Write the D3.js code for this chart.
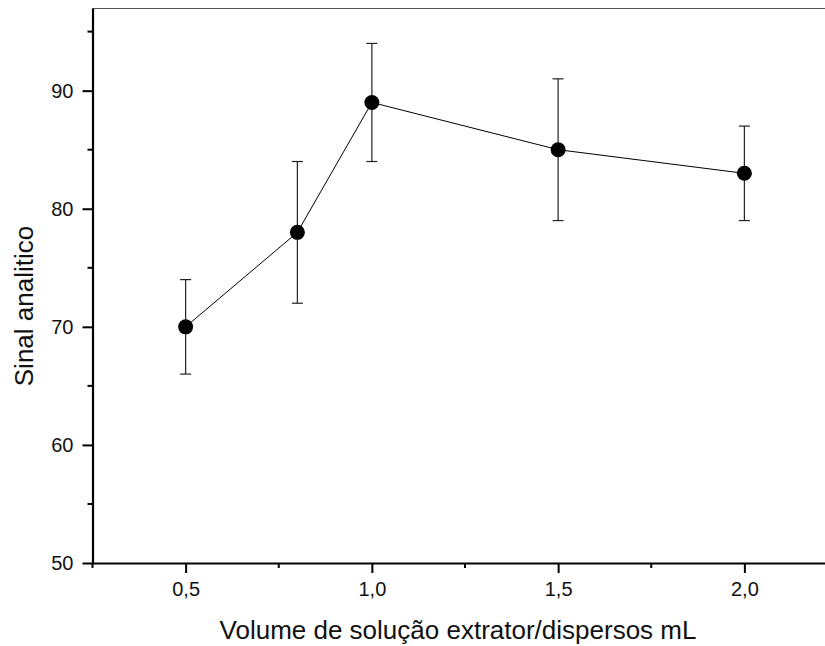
<!DOCTYPE html>
<html>
<head>
<meta charset="utf-8">
<script src="https://cdn.jsdelivr.net/npm/d3@7"></script>
<style>
  body { margin: 0; background: white; }
  svg { font-family: Arial, "Liberation Sans", sans-serif; }
</style>
</head>
<body>
<div id="chart"></div>
<script>
// values
var volumes = [0.5, 0.8, 1.0, 1.5, 2.0]
var signals = [70, 78, 89, 85, 83]
var errLow = [66, 72, 84, 79, 79]
var errHigh = [74, 84, 94, 91, 87]

var xMajor = [0.5, 1.0, 1.5, 2.0]
var xMinor = [0.25, 0.75, 1.25, 1.75]
var yMajor = [50, 60, 70, 80, 90]
var yMinor = [55, 65, 75, 85, 95]

const width = 825, height = 646
const margin = {left: 92.5, top: 8, bottom: 83}

const svg = d3.select("#chart").append("svg")
    .attr("width", width)
    .attr("height", height)

const x = d3.scaleLinear().domain([0.25, 2.25]).range([margin.left, margin.left + 745])
const y = d3.scaleLinear().domain([50, 97]).range([height - margin.bottom, margin.top])

const fmt = d => d.toFixed(1).replace(".", ",")

// top frame line
svg.append("line")
    .attr("x1", margin.left).attr("x2", width)
    .attr("y1", margin.top + 0.5).attr("y2", margin.top + 0.5)
    .attr("stroke", "#555").attr("stroke-width", 1.2)

// x axis
const xAxis = svg.append("g").attr("transform", `translate(0,${y(50)})`)
xAxis.call(d3.axisBottom(x).tickValues(xMajor).tickFormat(fmt).tickSize(10).tickSizeOuter(0).tickPadding(9))
xAxis.selectAll(".minor").data(xMinor).enter().append("line")
    .attr("x1", d => x(d)).attr("x2", d => x(d))
    .attr("y1", 0).attr("y2", 5)
    .attr("stroke", "black").attr("stroke-width", 2)

// y axis
const yAxis = svg.append("g").attr("transform", `translate(${margin.left},0)`)
yAxis.call(d3.axisLeft(y).tickValues(yMajor).tickSize(10).tickSizeOuter(0).tickPadding(9))
yAxis.selectAll(".minor").data(yMinor).enter().append("line")
    .attr("x1", 0).attr("x2", -5)
    .attr("y1", d => y(d)).attr("y2", d => y(d))
    .attr("stroke", "black").attr("stroke-width", 2)

svg.selectAll(".domain").attr("stroke-width", 2.2)
svg.selectAll(".tick line").attr("stroke-width", 2)
svg.selectAll(".tick text").attr("font-size", 20).attr("fill", "#111")
    .attr("font-family", "Arial, 'Liberation Sans', sans-serif")

// axis titles
svg.append("text")
    .attr("x", 458).attr("y", 639)
    .attr("text-anchor", "middle")
    .attr("font-size", 26)
    .attr("fill", "#111")
    .text("Volume de solução extrator/dispersos mL")

svg.append("text")
    .attr("transform", "translate(33,306) rotate(-90)")
    .attr("text-anchor", "middle")
    .attr("font-size", 26)
    .attr("fill", "#111")
    .text("Sinal analitico")

const data = volumes.map((v, i) => ({x: v, y: signals[i], lo: errLow[i], hi: errHigh[i]}))

// error bars
const eb = svg.append("g").attr("stroke", "#222").attr("stroke-width", 1.2)
eb.selectAll("line.bar").data(data).enter().append("line")
    .attr("x1", d => x(d.x)).attr("x2", d => x(d.x))
    .attr("y1", d => y(d.lo)).attr("y2", d => y(d.hi))
const capW = 5.5
eb.selectAll("line.hi").data(data).enter().append("line")
    .attr("x1", d => x(d.x) - capW).attr("x2", d => x(d.x) + capW)
    .attr("y1", d => y(d.hi)).attr("y2", d => y(d.hi))
eb.selectAll("line.lo").data(data).enter().append("line")
    .attr("x1", d => x(d.x) - capW).attr("x2", d => x(d.x) + capW)
    .attr("y1", d => y(d.lo)).attr("y2", d => y(d.lo))

// connecting line
const line = d3.line().x(d => x(d.x)).y(d => y(d.y))
svg.append("path")
    .datum(data)
    .attr("d", line)
    .attr("fill", "none")
    .attr("stroke", "black")
    .attr("stroke-width", 1)

// markers
svg.selectAll("circle.pt").data(data).enter().append("circle")
    .attr("cx", d => x(d.x)).attr("cy", d => y(d.y))
    .attr("r", 7.5)
    .attr("fill", "black")
</script>
</body>
</html>
